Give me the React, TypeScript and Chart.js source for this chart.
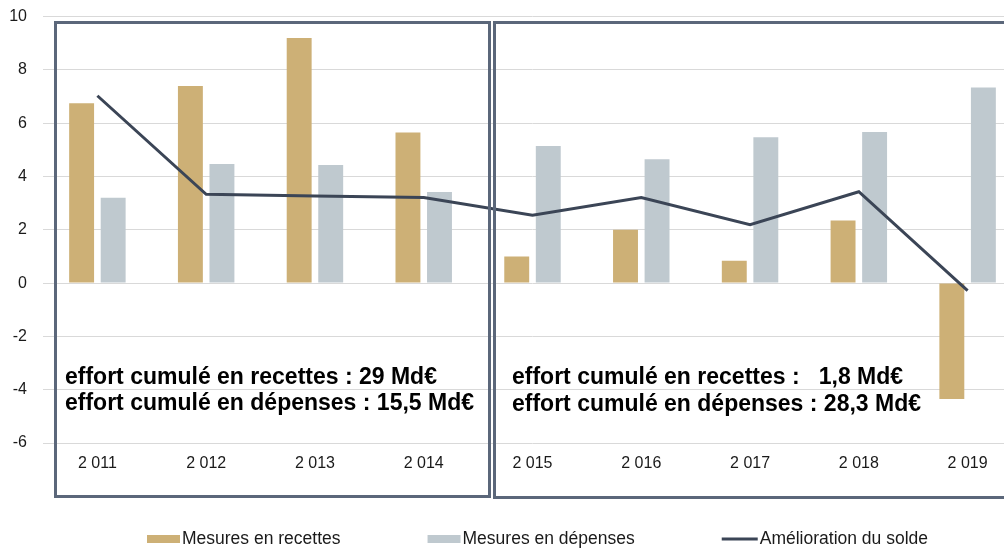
import { useEffect, useRef } from "react";
import { Chart, registerables } from "chart.js";

Chart.register(...registerables);

// Years on the horizontal axis
const years = ["2 011", "2 012", "2 013", "2 014", "2 015", "2 016", "2 017", "2 018", "2 019"];

// Effort measures, Md€
const mesuresRecettes = [6.75, 7.4, 9.2, 5.65, 1.0, 2.0, 0.84, 2.35, -4.35];
const mesuresDepenses = [3.2, 4.47, 4.43, 3.42, 5.14, 4.65, 5.47, 5.67, 7.34];
const ameliorationSolde = [7.03, 3.33, 3.27, 3.21, 2.55, 3.21, 2.19, 3.43, -0.28];

// Value axis range
const yMin = -6;
const yMax = 10;
const yStep = 2;

// Series names
const seriesNames = ["Mesures en recettes", "Mesures en dépenses", "Amélioration du solde"];

// Cumulated effort notes for the two periods
const notesPeriode1 = ["effort cumulé en recettes : 29 Md€", "effort cumulé en dépenses : 15,5 Md€"];
const notesPeriode2 = ["effort cumulé en recettes :   1,8 Md€", "effort cumulé en dépenses : 28,3 Md€"];

const FONT = "'Liberation Sans', Arial, sans-serif";
const COLOR_RECETTES = "#cdb076";
const COLOR_DEPENSES = "#bfc9cf";
const COLOR_SOLDE = "#3b4556";
const COLOR_FRAME = "#5b677a";

// The canvas sits slightly above the page top so the plot area starts near the top edge
const SHIFT = 9;
const CANVAS_W = 1022;
const CANVAS_H = 549 + SHIFT;

// Frames around the two periods plus their notes
const periodFrames = {
  id: "periodFrames",
  afterDatasetsDraw(chart: Chart) {
    const ctx = chart.ctx;
    ctx.save();
    ctx.translate(0, SHIFT);
    ctx.strokeStyle = COLOR_FRAME;
    ctx.lineWidth = 3;
    ctx.strokeRect(55.5, 22.5, 434, 474);
    ctx.strokeRect(494.5, 22.5, 560, 475);

    ctx.fillStyle = "#000";
    ctx.font = `bold 23px ${FONT}`;
    ctx.textBaseline = "middle";
    ctx.textAlign = "left";
    ctx.fillText(notesPeriode1[0], 65, 378);
    ctx.fillText(notesPeriode1[1], 65, 404);
    ctx.fillText(notesPeriode2[0], 512, 378);
    ctx.fillText(notesPeriode2[1], 512, 405);
    ctx.restore();
  },
};

// Legend row under the chart
const bottomLegend = {
  id: "bottomLegend",
  afterDraw(chart: Chart) {
    const ctx = chart.ctx;
    ctx.save();
    ctx.translate(0, SHIFT);
    ctx.font = `17.5px ${FONT}`;
    ctx.textBaseline = "middle";
    ctx.textAlign = "left";
    const y = 539;
    let x = 147;
    chart.data.datasets.forEach((ds: any, i: number) => {
      const isLine = ds.type === "line";
      const w = isLine ? 36 : 33;
      if (isLine) {
        ctx.strokeStyle = ds.borderColor;
        ctx.lineWidth = 3;
        ctx.beginPath();
        ctx.moveTo(x, y);
        ctx.lineTo(x + w, y);
        ctx.stroke();
      } else {
        ctx.fillStyle = ds.backgroundColor;
        ctx.fillRect(x, y - 4, w, 8);
      }
      ctx.fillStyle = "#1a1a1a";
      const label = seriesNames[i];
      ctx.fillText(label, x + w + 2, y);
      x += w + 2 + ctx.measureText(label).width + 87;
    });
    ctx.restore();
  },
};

export default function App() {
  const canvasRef = useRef<HTMLCanvasElement | null>(null);

  useEffect(() => {
    const canvas = canvasRef.current;
    if (!canvas) return;
    const chart = new Chart(canvas, {
      type: "bar",
      data: {
        labels: years,
        datasets: [
          {
            type: "bar",
            label: seriesNames[0],
            data: mesuresRecettes,
            backgroundColor: COLOR_RECETTES,
            categoryPercentage: 0.58,
            barPercentage: 0.79,
            order: 1,
          },
          {
            type: "bar",
            label: seriesNames[1],
            data: mesuresDepenses,
            backgroundColor: COLOR_DEPENSES,
            categoryPercentage: 0.58,
            barPercentage: 0.79,
            order: 1,
          },
          {
            type: "line",
            label: seriesNames[2],
            data: ameliorationSolde,
            borderColor: COLOR_SOLDE,
            backgroundColor: COLOR_SOLDE,
            borderWidth: 3,
            pointRadius: 0,
            tension: 0,
            order: 0,
          },
        ] as any,
      },
      options: {
        responsive: false,
        devicePixelRatio: 1,
        animation: false,
        layout: { padding: { top: 6, left: 0, right: 0, bottom: 0 } },
        plugins: {
          legend: { display: false },
          tooltip: { enabled: false },
        },
        scales: {
          x: {
            grid: { display: false, drawTicks: false },
            border: { display: false },
            ticks: {
              color: "#1a1a1a",
              font: { family: FONT, size: 16 },
              padding: 11,
              maxRotation: 0,
            },
            afterFit(scale: any) {
              scale.height = 106;
            },
          },
          y: {
            min: yMin,
            max: yMax,
            grid: { color: "#d9d9d9", lineWidth: 1, drawTicks: false },
            border: { display: false },
            ticks: {
              stepSize: yStep,
              color: "#1a1a1a",
              font: { family: FONT, size: 16 },
              padding: 16,
            },
            afterFit(scale: any) {
              scale.width = 43;
            },
          },
        },
      },
      plugins: [periodFrames, bottomLegend],
    });
    return () => chart.destroy();
  }, []);

  return (
    <div
      style={{
        position: "fixed",
        left: 0,
        top: 0,
        width: 1004,
        height: 549,
        overflow: "hidden",
        background: "#fff",
      }}
    >
      <canvas
        ref={canvasRef}
        width={CANVAS_W}
        height={CANVAS_H}
        style={{ display: "block", width: CANVAS_W, height: CANVAS_H, marginTop: -SHIFT }}
      />
    </div>
  );
}
